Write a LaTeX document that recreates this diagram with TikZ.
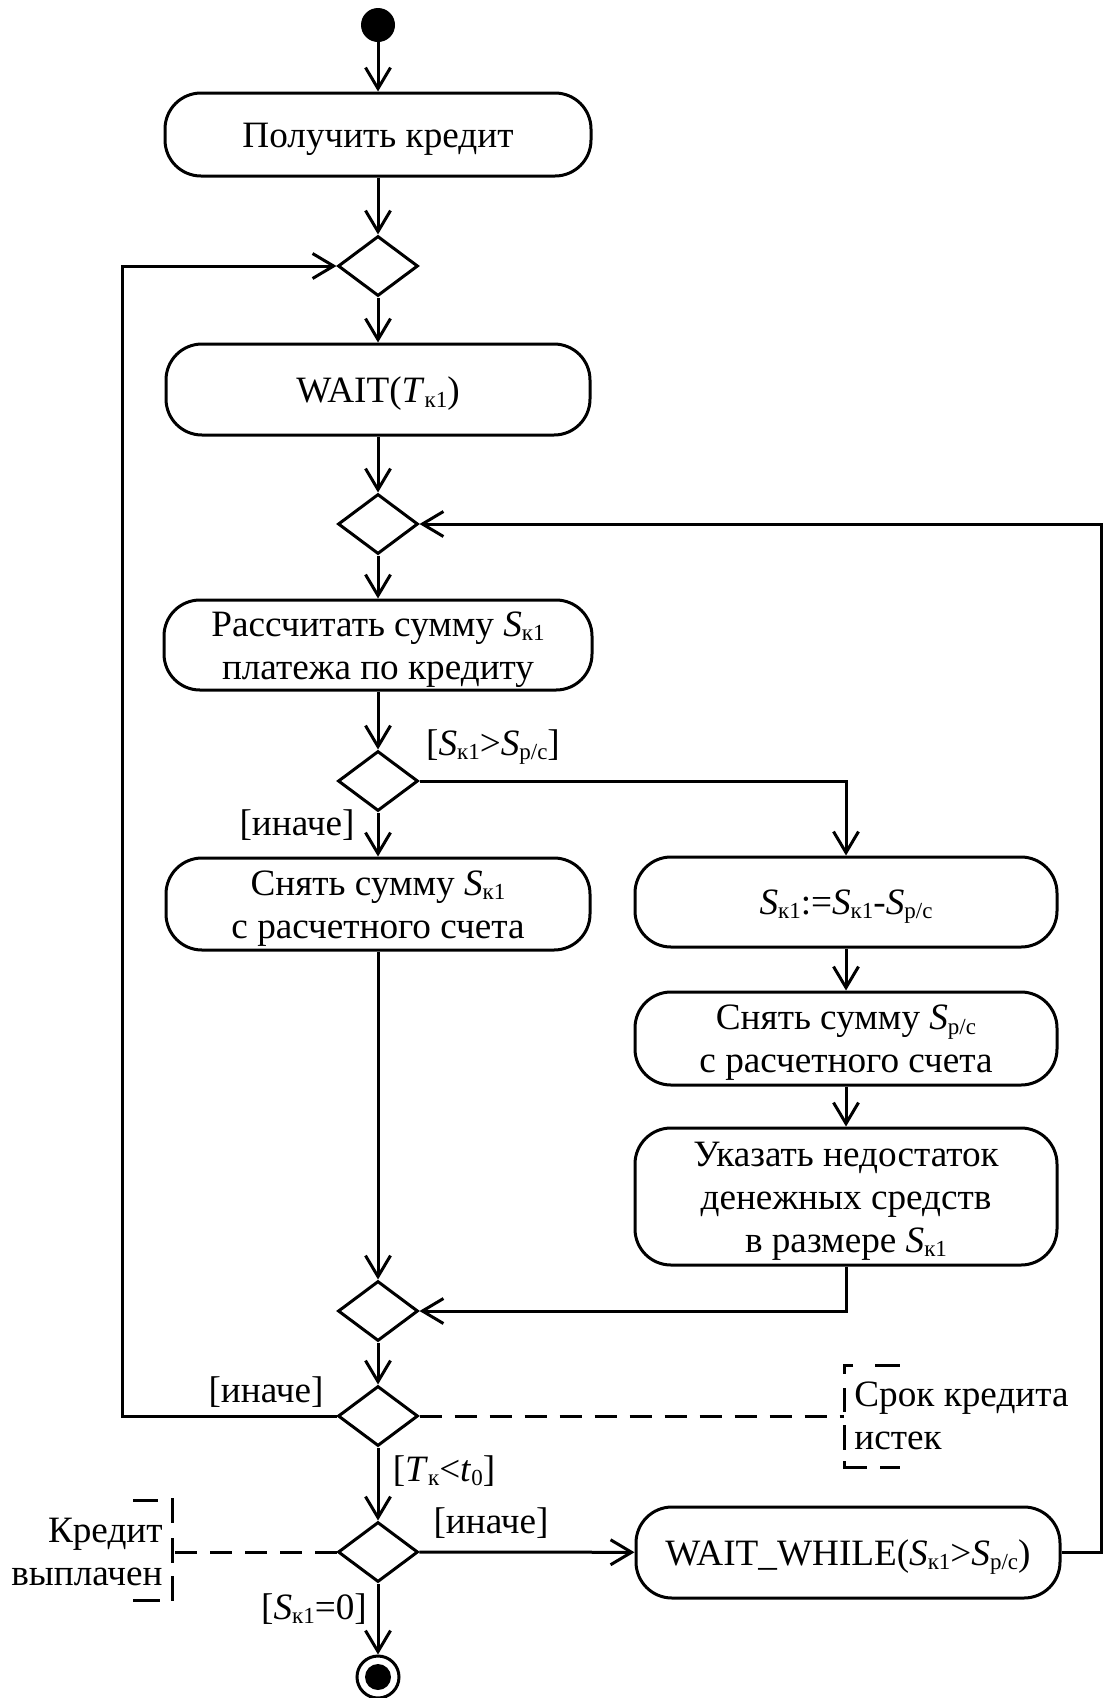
\documentclass[tikz,border=0pt]{standalone}
\usepackage{fontspec}
\setmainfont{Liberation Serif}
\usetikzlibrary{arrows.meta,shapes.geometric}
\newcommand\lowsub[1]{\lower0.25ex\hbox{\fontsize{11.5}{11.5}\selectfont #1}}
\newcommand\SK{\textit{S}\lowsub{к1}}
\newcommand\SP{\textit{S}\lowsub{р/с}}
\tikzset{
  act/.style={draw, line width=1.5pt, rounded corners=18pt, minimum width=212pt, minimum height=45pt, inner sep=0pt},
  txt/.style={align=center, inner sep=0pt, yshift=-2.2pt},
  dec/.style={draw, diamond, line width=1.5pt, minimum width=40pt, minimum height=30pt, inner sep=0pt},
  flow/.style={line width=1.5pt, -{Straight Barb[length=10.5pt,width=12.5pt]}},
  noteline/.style={line width=1.5pt, dash pattern=on 11pt off 6.5pt},
  brk/.style={line width=1.5pt},
  lbl/.style={inner sep=0pt}
}
\begin{document}
\begin{tikzpicture}[x=0.5pt, y=-0.5pt, font=\fontsize{18.6}{21.5}\selectfont]
\useasboundingbox (0,0) rectangle (1109,1698);
% start
\node[circle, fill=black, minimum size=17pt, inner sep=0pt] (start) at (378,25) {};
% activities (frames)
\node[act, minimum width=213pt, minimum height=41.5pt] (b1) at (378,134.5) {};
\node[dec] (d1) at (378,266) {};
\node[act, minimum width=212pt, minimum height=45.5pt] (b2) at (378,389.5) {};
\node[dec] (d2) at (378,524) {};
\node[act, minimum width=214pt, minimum height=45pt] (b3) at (378,645) {};
\node[dec] (d3) at (378,781) {};
\node[act, minimum width=212pt, minimum height=46pt] (b4) at (378,904) {};
\node[act, minimum width=211pt, minimum height=45pt] (b5) at (846,902) {};
\node[act, minimum width=211pt, minimum height=46.5pt] (b6) at (846,1038.5) {};
\node[act, minimum width=211pt, minimum height=68.5pt] (b7) at (846,1196.5) {};
\node[dec] (d4) at (378,1311) {};
\node[dec] (d5) at (378,1416) {};
\node[dec] (d6) at (378,1552) {};
\node[act, minimum width=212pt, minimum height=45.5pt] (b8) at (848,1552.5) {};
% activity texts
\node[txt] (t1) at (b1.center) {Получить кредит};
\node[txt] (t2) at (b2.center) {WAIT(\textit{T}\lowsub{к1})};
\node[txt] (t3) at (b3.center) {Рассчитать сумму \SK\\платежа по кредиту};
\node[txt] (t4) at (b4.center) {Снять сумму \SK\\с расчетного счета};
\node[txt] (t5) at (b5.center) {\SK:=\SK-\SP};
\node[txt] (t6) at (b6.center) {Снять сумму \SP\\с расчетного счета};
\node[txt] (t7) at (b7.center) {Указать недостаток\\денежных средств\\в размере \SK};
\node[txt] (t8) at (b8.center) {WAIT\_WHILE(\SK{}>\SP)};
% end
\node[circle, draw, line width=1.5pt, minimum size=21pt, inner sep=0pt] (end) at (378,1677) {};
\fill (end.center) circle (6.5pt);
% helper coordinates
\coordinate (lp) at (122,1416);
\coordinate (rp) at (1101,1552.5);
\coordinate (n1) at (844,1416);
\coordinate (n2) at (172,1552);
% connectors
\draw[flow] (start) -- (b1);
\draw[flow] (b1) -- (d1);
\draw[flow] (d1) -- (b2);
\draw[flow] (b2) -- (d2);
\draw[flow] (d2) -- (b3);
\draw[flow] (b3) -- (d3);
\draw[flow] (d3) -- (b4);
\draw[flow] (d3.east) -| (b5.north);
\draw[flow] (b5) -- (b6);
\draw[flow] (b6) -- (b7);
\draw[flow] (b4) -- (d4);
\draw[flow] (b7.south) |- (d4.east);
\draw[flow] (d4) -- (d5);
\draw[flow] (d5.west) -- (lp) |- (d1.west);
\draw[flow] (d5) -- (d6);
\draw[flow] (d6) -- (b8);
\draw[flow] (b8.east) -- (rp) |- (d2.east);
\draw[flow] (d6) -- (end);
% note: Срок кредита истек
\draw[noteline] (d5.east) -- (n1);
\draw[brk] (875,1365) -- (900,1365);
\draw[brk] (853,1365) -- (844,1365) -- (844,1374);
\draw[brk] (844,1388) -- (844,1412);
\draw[brk] (844,1425) -- (844,1450);
\draw[brk] (844,1461) -- (844,1467) -- (867,1467);
\draw[brk] (880,1467) -- (900,1467);
\node[lbl, anchor=west, align=left] (note1) at (854,1416) {Срок кредита\\истек};
% note: Кредит выплачен
\draw[noteline] (d6.west) -- (n2);
\draw[brk] (133,1500) -- (158,1500);
\draw[brk] (172,1498) -- (172,1523);
\draw[brk] (172,1538) -- (172,1563);
\draw[brk] (172,1576) -- (172,1601);
\draw[brk] (133,1600) -- (160,1600);
\node[lbl, anchor=east, align=right] (note2) at (163,1552) {Кредит\\выплачен};
% guards
\node[lbl] (g1) at (493,747) {[\SK{}>\SP]};
\node[lbl] (g2) at (297,825) {[иначе]};
\node[lbl] (g3) at (266,1392) {[иначе]};
\node[lbl] (g4) at (444,1471) {[\textit{T}\lowsub{к}<\textit{t}\lowsub{0}]};
\node[lbl] (g5) at (491,1523) {[иначе]};
\node[lbl] (g6) at (314,1609) {[\SK=0]};
\end{tikzpicture}
\end{document}
